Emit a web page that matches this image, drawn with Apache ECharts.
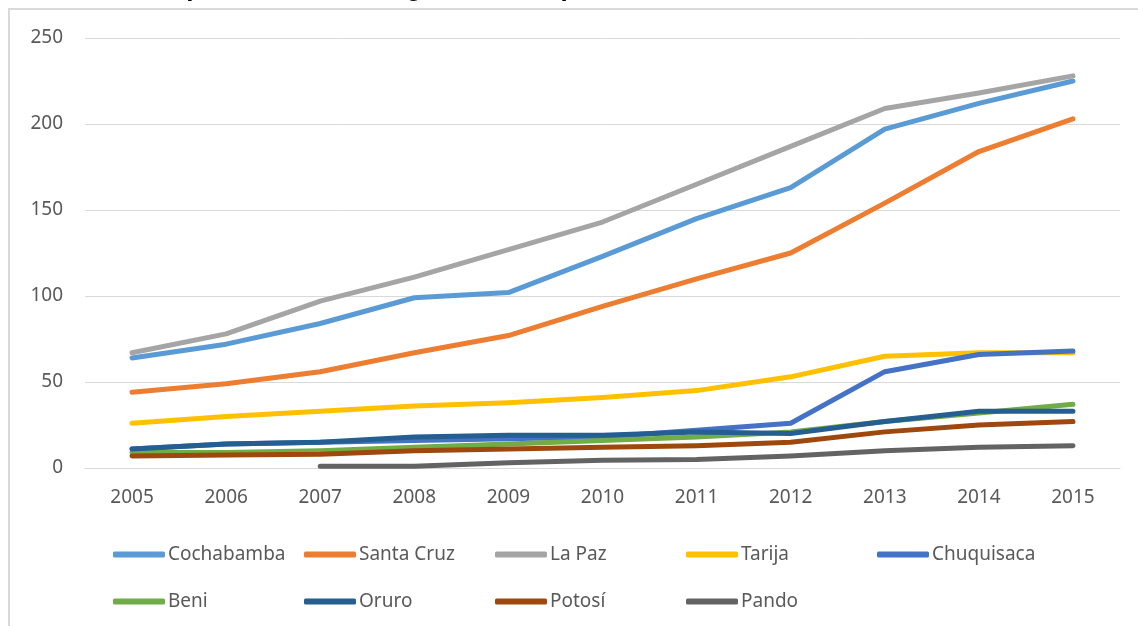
<!DOCTYPE html>
<html>
<head>
<meta charset="utf-8">
<script src="https://cdn.jsdelivr.net/npm/echarts@6/dist/echarts.min.js"></script>
<style>
  html, body { margin: 0; padding: 0; background: #fff; }
  #chart { width: 1138px; height: 626px; }
</style>
</head>
<body>
<div id="chart"></div>
<script>
const years = ['2005', '2006', '2007', '2008', '2009', '2010', '2011', '2012', '2013', '2014', '2015']

const cochabamba = [64, 72, 84, 99, 102, 123, 145, 163, 197, 212, 225]
const santaCruz = [44, 49, 56, 67, 77, 94, 110, 125, 154, 184, 203]
const laPaz = [67, 78, 97, 111, 127, 143, 165, 187, 209, 218, 228]
const tarija = [26, 30, 33, 36, 38, 41, 45, 53, 65, 67, 67]
const chuquisaca = [11, 14, 15, 16, 17, 18, 22, 26, 56, 66, 68]
const beni = [9, 9, 10, 12, 14, 16, 18, 21, 27, 32, 37]
const oruro = [11, 14, 15, 18, 19, 19, 21, 20, 27, 33, 33]
const potosi = [7, 7.5, 8, 10, 11, 12, 13, 15, 21, 25, 27]
const pando = [null, null, 1, 1, 3, 4.5, 5, 7, 10, 12, 13]

const seriesDefs = [
  { name: 'Cochabamba', data: cochabamba, color: '#5B9BD5' },
  { name: 'Santa Cruz', data: santaCruz, color: '#ED7D31' },
  { name: 'La Paz', data: laPaz, color: '#A5A5A5' },
  { name: 'Tarija', data: tarija, color: '#FFC000' },
  { name: 'Chuquisaca', data: chuquisaca, color: '#4472C4' },
  { name: 'Beni', data: beni, color: '#70AD47' },
  { name: 'Oruro', data: oruro, color: '#255E91' },
  { name: 'Potosí', data: potosi, color: '#9E480E' },
  { name: 'Pando', data: pando, color: '#636363' }
]

const font = '"Noto Sans", sans-serif'
const textColor = '#595959'

// legend: fixed columns like Excel, 5 per row
const legends = seriesDefs.map((s, i) => ({
  left: 108 + (i % 5) * 191,
  top: i < 5 ? 540 : 587,
  data: [s.name],
  itemWidth: 52,
  itemHeight: 6,
  itemGap: 5,
  icon: 'roundRect',
  textStyle: { color: textColor, fontSize: 19, fontFamily: font, padding: [0, 0, 0, -2] }
}))

const chart = echarts.init(document.getElementById('chart'))

chart.setOption({
  animation: false,
  backgroundColor: '#fff',
  graphic: [
    {
      type: 'rect',
      shape: { x: 9, y: 9, width: 1200, height: 700 },
      style: { fill: 'none', stroke: '#d9d9d9', lineWidth: 2 },
      silent: true
    },
    {
      type: 'text',
      left: 0,
      top: -24,
      style: {
        text: 'Gráfico 3: Comportamiento de registro de empresas de nueva creación',
        fill: '#000',
        font: 'bold 26px "Liberation Sans", Arial, sans-serif'
      },
      silent: true
    }
  ],
  grid: { left: 85, right: 18, top: 38, bottom: 158 },
  legend: legends,
  xAxis: {
    type: 'category',
    data: years,
    boundaryGap: true,
    axisLine: { lineStyle: { color: '#d9d9d9', width: 1 } },
    axisTick: { show: false },
    axisLabel: { color: textColor, fontSize: 19, fontFamily: font, margin: 20 }
  },
  yAxis: {
    type: 'value',
    min: 0,
    max: 250,
    interval: 50,
    axisLine: { show: false },
    axisTick: { show: false },
    axisLabel: { color: textColor, fontSize: 19, fontFamily: font, margin: 22 },
    splitLine: { lineStyle: { color: '#d9d9d9', width: 1 } }
  },
  series: seriesDefs.map(s => ({
    name: s.name,
    type: 'line',
    data: s.data,
    showSymbol: false,
    symbol: 'none',
    color: s.color,
    lineStyle: { color: s.color, width: 5, cap: 'round', join: 'round' },
    itemStyle: { color: s.color }
  }))
})
</script>
</body>
</html>
